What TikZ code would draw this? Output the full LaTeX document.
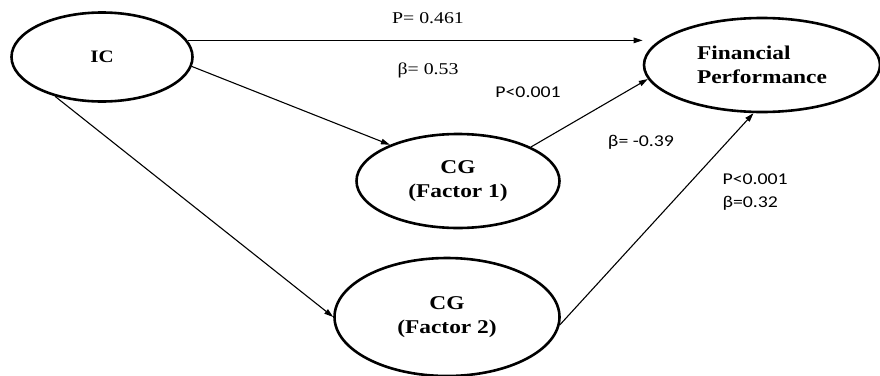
\documentclass[tikz,border=0pt]{standalone}
\usepackage{fontspec}
\setmainfont{Liberation Serif}[FakeStretch=1.2]
\newfontfamily\statfont{Carlito}[FakeStretch=1.2]
\usetikzlibrary{shapes.geometric, arrows.meta}

\begin{document}
\begin{tikzpicture}[x=1pt, y=-1pt,
  construct/.style={ellipse, draw, line width=2.6pt, inner sep=0pt, align=center,
    font=\bfseries\fontsize{19.5}{24}\selectfont},
  link/.style={-{Triangle[length=9pt, width=5.5pt]}, line width=1.1pt},
  coef/.style={font=\fontsize{16.5}{19}\selectfont},
  stat/.style={font=\statfont\fontsize{16.5}{23}\selectfont, align=left}]
  \useasboundingbox (0,0) rectangle (880,375);
  % constructs
  \node[construct, minimum width=181pt, minimum height=89pt,
    font=\bfseries\fontsize{17.5}{20}\selectfont] (ic) at (102,57) {IC};
  \node[construct, minimum width=236pt, minimum height=94pt, align=left] (fp) at (762,65) {Financial\\Performance};
  \node[construct, minimum width=203pt, minimum height=94pt] (cgone) at (458,181) {CG\\(Factor 1)};
  \node[construct, minimum width=225pt, minimum height=118pt] (cgtwo) at (447,317) {CG\\(Factor 2)};
  % paths
  \draw[link] (ic.11) -- (ic.11 -| fp.west);
  \draw[link] (ic.-6) -- (cgone.152);
  \draw[link] (ic.-140) -- (cgtwo.west);
  \draw[link] (cgone.25) -- (fp.187);
  \draw[link] (cgtwo.-4) -- (fp.-100);
  % estimates
  \node[coef] (pdir) at (428,18) {P= 0.461};
  \node[coef] (bdir) at (428,70) {β= 0.53};
  \node[stat] (pone) at (528,92) {P<0.001};
  \node[stat] (bone) at (641,142) {β= -0.39};
  \node[stat, anchor=west] (two) at (719,192) {P<0.001\\β=0.32};
\end{tikzpicture}
\end{document}
